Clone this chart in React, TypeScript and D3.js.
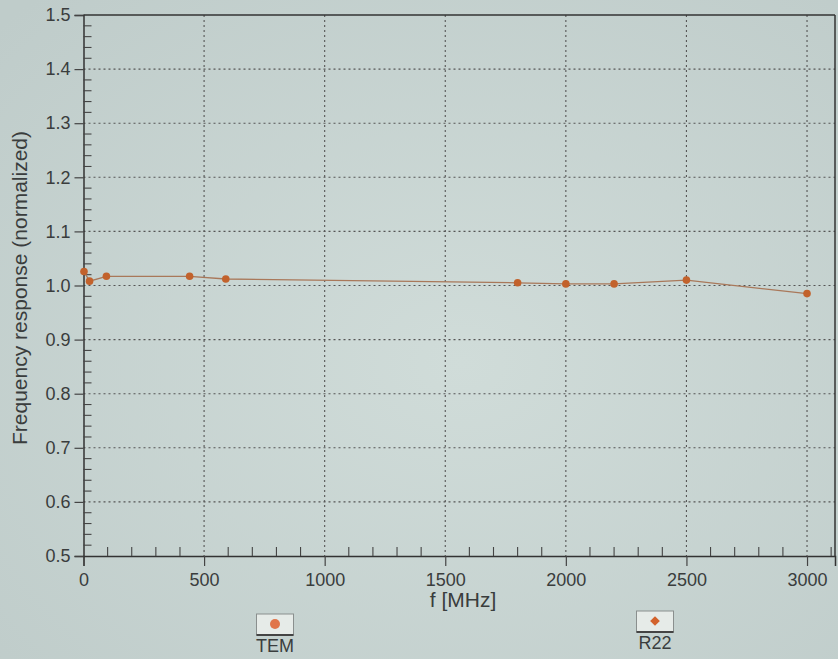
import React, { useEffect, useRef } from "react";
import * as d3 from "d3";

// values
const freqTEM = [2, 25, 95, 440, 590, 1800, 2000, 2200, 2500, 3000];
const respTEM = [1.026, 1.008, 1.017, 1.017, 1.012, 1.005, 1.003, 1.003, 1.01, 0.985];

const xTicks = [0, 500, 1000, 1500, 2000, 2500, 3000];
const yTicks = [0.5, 0.6, 0.7, 0.8, 0.9, 1.0, 1.1, 1.2, 1.3, 1.4, 1.5];
const legendItems = ["TEM", "R22"];

const W = 838;
const H = 659;
const FONT = "'Liberation Sans', Arial, Helvetica, sans-serif";
const INK = "#3a3d3d";
const MARK = "#c2622c";

const App = () => {
  const svgRef = useRef<SVGSVGElement>(null);

  useEffect(() => {
    const svg = d3.select(svgRef.current);
    svg.selectAll("*").remove();

    const x = d3.scaleLinear().domain([0, 3116]).range([83.5, 835]);
    const y = d3.scaleLinear().domain([0.5, 1.5]).range([556, 15]);

    // photo-like background
    const defs = svg.append("defs");
    const grad = defs
      .append("radialGradient")
      .attr("id", "bg")
      .attr("cx", "55%")
      .attr("cy", "55%")
      .attr("r", "75%");
    grad.append("stop").attr("offset", "0%").attr("stop-color", "#d0dcd9");
    grad.append("stop").attr("offset", "100%").attr("stop-color", "#bfccca");
    svg.append("rect").attr("width", W).attr("height", H).attr("fill", "url(#bg)");

    const g = svg.append("g");

    // dotted grid
    g.selectAll(".vgrid")
      .data(xTicks.filter((t) => t > 0))
      .enter()
      .append("line")
      .attr("x1", (d) => x(d))
      .attr("x2", (d) => x(d))
      .attr("y1", y(1.5))
      .attr("y2", y(0.5))
      .attr("stroke", "#555")
      .attr("stroke-width", 1.1)
      .attr("stroke-dasharray", "2,3");

    g.selectAll(".hgrid")
      .data(yTicks.filter((t) => t > 0.5 && t < 1.5))
      .enter()
      .append("line")
      .attr("x1", x(0))
      .attr("x2", x.range()[1])
      .attr("y1", (d) => y(d))
      .attr("y2", (d) => y(d))
      .attr("stroke", "#555")
      .attr("stroke-width", 1.1)
      .attr("stroke-dasharray", "2,3");

    // frame: top and right
    g.append("line")
      .attr("x1", x(0))
      .attr("x2", x.range()[1])
      .attr("y1", y(1.5))
      .attr("y2", y(1.5))
      .attr("stroke", "#333")
      .attr("stroke-width", 1.5);
    g.append("line")
      .attr("x1", x.range()[1])
      .attr("x2", x.range()[1])
      .attr("y1", y(1.5))
      .attr("y2", y(0.5))
      .attr("stroke", "#333")
      .attr("stroke-width", 1.5);

    // x axis: major ticks outward, minor ticks inward
    const xAxis = g.append("g").attr("transform", `translate(0,${y(0.5)})`);
    xAxis
      .call(d3.axisBottom(x).tickValues(xTicks).tickSize(10).tickPadding(7).tickFormat(d3.format("d")))
      .call((a) => a.select(".domain").attr("stroke", "#333").attr("stroke-width", 1.5));
    xAxis
      .selectAll(".minor")
      .data(d3.range(100, 3101, 100).filter((v) => v % 500 !== 0))
      .enter()
      .append("line")
      .attr("x1", (d) => x(d))
      .attr("x2", (d) => x(d))
      .attr("y1", 0)
      .attr("y2", -9)
      .attr("stroke", "#444")
      .attr("stroke-width", 1.1);

    // y axis
    const yAxis = g.append("g").attr("transform", `translate(${x(0)},0)`);
    yAxis
      .call(d3.axisLeft(y).tickValues(yTicks).tickSize(9).tickPadding(4).tickFormat(d3.format(".1f")))
      .call((a) => a.select(".domain").attr("stroke", "#333").attr("stroke-width", 1.5));
    yAxis
      .selectAll(".minor")
      .data(d3.range(0.52, 1.5, 0.02).filter((v) => Math.abs(v * 10 - Math.round(v * 10)) > 0.01))
      .enter()
      .append("line")
      .attr("x1", 0)
      .attr("x2", 8)
      .attr("y1", (d) => y(d))
      .attr("y2", (d) => y(d))
      .attr("stroke", "#444")
      .attr("stroke-width", 1.1);

    svg
      .selectAll(".tick text")
      .attr("font-family", FONT)
      .attr("font-size", 18)
      .attr("fill", INK);
    svg.selectAll(".tick line").attr("stroke", "#444").attr("stroke-width", 1.2);

    // axis titles
    g.append("text")
      .attr("x", 463)
      .attr("y", 607)
      .attr("text-anchor", "middle")
      .attr("font-family", FONT)
      .attr("font-size", 21)
      .attr("fill", INK)
      .text("f [MHz]");

    g.append("text")
      .attr("transform", `translate(27,288) rotate(-90)`)
      .attr("text-anchor", "middle")
      .attr("font-family", FONT)
      .attr("font-size", 21)
      .attr("fill", INK)
      .text("Frequency response (normalized)");

    // series
    const pts = freqTEM.map((f, i) => [f, respTEM[i]] as [number, number]);
    const line = d3
      .line<[number, number]>()
      .x((d) => x(d[0]))
      .y((d) => y(d[1]));
    g.append("path")
      .datum(pts)
      .attr("d", line)
      .attr("fill", "none")
      .attr("stroke", "#a9785a")
      .attr("stroke-width", 1.3);
    g.selectAll(".pt")
      .data(pts)
      .enter()
      .append("circle")
      .attr("cx", (d) => x(d[0]))
      .attr("cy", (d) => y(d[1]))
      .attr("r", 3.8)
      .attr("fill", MARK);

    // legend
    const legendX = [275, 655];
    const legendY = [614, 611];
    legendItems.forEach((name, i) => {
      const lg = g.append("g").attr("transform", `translate(${legendX[i]},${legendY[i]})`);
      lg.append("rect")
        .attr("x", -18.5)
        .attr("y", 0)
        .attr("width", 37)
        .attr("height", 21)
        .attr("fill", "#e6ebe8")
        .attr("stroke", "#8a8f8e")
        .attr("stroke-width", 1);
      lg.append("line")
        .attr("x1", -18.5)
        .attr("x2", 18.5)
        .attr("y1", 21)
        .attr("y2", 21)
        .attr("stroke", "#444")
        .attr("stroke-width", 2);
      if (i === 0) {
        lg.append("circle").attr("cx", 0).attr("cy", 10).attr("r", 5).attr("fill", "#e0754a");
      } else {
        lg.append("path")
          .attr("d", d3.symbol(d3.symbolDiamond2, 60)())
          .attr("transform", "translate(0,10)")
          .attr("fill", "#d2622c");
      }
      lg.append("text")
        .attr("x", 0)
        .attr("y", 38)
        .attr("text-anchor", "middle")
        .attr("font-family", FONT)
        .attr("font-size", 18)
        .attr("fill", INK)
        .text(name);
    });
  }, []);

  return (
    <svg
      ref={svgRef}
      width={W}
      height={H}
      style={{ position: "absolute", left: 0, top: 0 }}
    />
  );
};

export default App;
